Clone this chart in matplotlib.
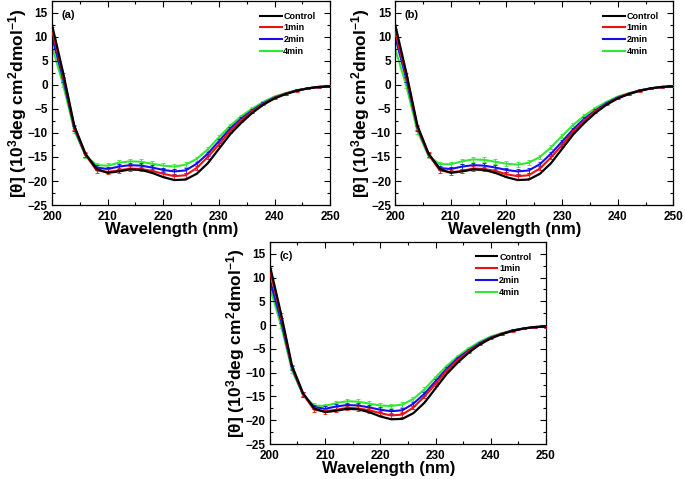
import matplotlib
matplotlib.use("Agg")
import matplotlib.pyplot as plt
from matplotlib.ticker import MultipleLocator
from matplotlib.lines import Line2D

plt.rcParams['font.family'] = ['Liberation Sans', 'DejaVu Sans']
plt.rcParams['font.weight'] = 'bold'
plt.rcParams['mathtext.fontset'] = 'custom'
plt.rcParams['mathtext.rm'] = 'Liberation Sans:bold'
plt.rcParams['mathtext.default'] = 'rm'

wavelength = list(range(200, 251, 2))
labels = ["Control", "1min", "2min", "4min"]
colors = ["black", "#ee1111", "#1111ee", "#33e833"]
panel_tags = ["(a)", "(b)", "(c)"]

# panel (a)
a_control = [12.5, 2.5, -8.5, -14.3, -17.5, -18.3, -18.0, -17.6, -17.7, -18.3, -19.2, -19.8, -19.7, -18.5,
             -16.3, -13.3, -10.3, -7.9, -5.8, -4.1, -2.8, -1.9, -1.2, -0.7, -0.4, -0.3]
a_1min = [11.5, 2.0, -8.8, -14.5, -17.8, -18.1, -17.8, -17.4, -17.5, -17.9, -18.5, -19.0, -18.8, -17.3,
          -15.0, -12.4, -9.6, -7.4, -5.5, -4.0, -2.7, -1.8, -1.2, -0.7, -0.4, -0.3]
a_2min = [10.0, 1.2, -9.0, -14.6, -17.2, -17.5, -17.0, -16.7, -16.8, -17.2, -17.7, -18.0, -17.8, -16.4,
          -14.3, -11.7, -9.1, -7.0, -5.3, -3.8, -2.6, -1.8, -1.1, -0.7, -0.4, -0.3]
a_4min = [8.0, 0.0, -9.5, -14.7, -16.7, -16.8, -16.2, -15.9, -16.0, -16.4, -16.8, -17.0, -16.6, -15.4,
          -13.4, -10.9, -8.5, -6.5, -4.9, -3.5, -2.4, -1.7, -1.1, -0.7, -0.4, -0.3]
a_err = [0.6, 0.5, 0.5, 0.5, 0.5, 0.5, 0.5, 0.5, 0.5, 0.5, 0.5, 0.5, 0.5, 0.4,
         0.4, 0.4, 0.3, 0.3, 0.3, 0.2, 0.2, 0.2, 0.2, 0.2, 0.2, 0.2]

# panel (b)
b_control = [12.5, 2.5, -8.5, -14.3, -17.5, -18.3, -18.0, -17.6, -17.7, -18.3, -19.2, -19.8, -19.7, -18.5,
             -16.3, -13.3, -10.3, -7.9, -5.8, -4.1, -2.8, -1.9, -1.2, -0.7, -0.4, -0.3]
b_1min = [11.0, 2.0, -8.8, -14.5, -17.8, -18.2, -17.9, -17.4, -17.5, -17.9, -18.6, -19.0, -18.8, -17.4,
          -15.1, -12.5, -9.7, -7.4, -5.5, -4.0, -2.7, -1.8, -1.2, -0.7, -0.4, -0.3]
b_2min = [10.0, 1.2, -9.0, -14.6, -17.3, -17.5, -17.0, -16.7, -16.8, -17.2, -17.7, -18.0, -17.8, -16.5,
          -14.3, -11.8, -9.2, -7.0, -5.3, -3.8, -2.6, -1.8, -1.1, -0.7, -0.4, -0.3]
b_4min = [7.5, -0.2, -9.7, -14.8, -16.5, -16.5, -15.9, -15.5, -15.6, -16.0, -16.4, -16.6, -16.2, -15.0,
          -13.0, -10.6, -8.3, -6.4, -4.8, -3.5, -2.4, -1.7, -1.1, -0.7, -0.4, -0.3]
b_err = [0.6, 0.5, 0.5, 0.5, 0.5, 0.5, 0.5, 0.5, 0.5, 0.5, 0.5, 0.5, 0.5, 0.4,
         0.4, 0.4, 0.3, 0.3, 0.3, 0.2, 0.2, 0.2, 0.2, 0.2, 0.2, 0.2]

# panel (c)
c_control = [12.5, 2.5, -8.5, -14.3, -17.5, -18.3, -18.0, -17.6, -17.7, -18.3, -19.2, -19.8, -19.7, -18.5,
             -16.3, -13.3, -10.3, -7.9, -5.8, -4.1, -2.8, -1.9, -1.2, -0.7, -0.4, -0.3]
c_1min = [11.5, 2.0, -8.8, -14.5, -17.8, -18.1, -17.8, -17.4, -17.5, -17.9, -18.5, -19.0, -18.8, -17.3,
          -15.0, -12.4, -9.6, -7.4, -5.5, -4.0, -2.7, -1.8, -1.2, -0.7, -0.4, -0.3]
c_2min = [9.5, 1.0, -9.0, -14.6, -17.2, -17.6, -17.1, -16.8, -16.9, -17.3, -17.8, -18.1, -17.9, -16.5,
          -14.4, -11.8, -9.2, -7.0, -5.3, -3.8, -2.6, -1.8, -1.1, -0.7, -0.4, -0.3]
c_4min = [8.0, 0.0, -9.5, -14.7, -16.9, -17.0, -16.4, -16.0, -16.1, -16.5, -16.9, -17.0, -16.7, -15.5,
          -13.5, -11.0, -8.6, -6.6, -4.9, -3.5, -2.4, -1.7, -1.1, -0.7, -0.4, -0.3]
c_err = [0.6, 0.5, 0.5, 0.5, 0.5, 0.5, 0.5, 0.5, 0.5, 0.5, 0.5, 0.5, 0.5, 0.4,
         0.4, 0.4, 0.3, 0.3, 0.3, 0.2, 0.2, 0.2, 0.2, 0.2, 0.2, 0.2]

panels = [
    ([a_control, a_1min, a_2min, a_4min], a_err),
    ([b_control, b_1min, b_2min, b_4min], b_err),
    ([c_control, c_1min, c_2min, c_4min], c_err),
]

fig = plt.figure(figsize=(6.85, 4.79), dpi=100)
rects = [
    [0.076, 0.572, 0.406, 0.426],
    [0.577, 0.572, 0.406, 0.426],
    [0.394, 0.073, 0.403, 0.422],
]

for rect, (series, err), tag in zip(rects, panels, panel_tags):
    ax = fig.add_axes(rect)
    for i, (vals, lab, col) in enumerate(zip(series, labels, colors)):
        if i == 0:
            ax.plot(wavelength, vals, color=col, lw=1.6, label=lab, zorder=5)
        else:
            ax.errorbar(wavelength, vals, yerr=err, color=col, lw=1.5, elinewidth=0.6,
                        capsize=1.5, capthick=0.6, label=lab, zorder=4 - i)
    ax.set_xlim(200, 250)
    ax.set_ylim(-25, 17.5)
    ax.xaxis.set_major_locator(MultipleLocator(10))
    ax.xaxis.set_minor_locator(MultipleLocator(5))
    ax.yaxis.set_minor_locator(MultipleLocator(2.5))
    ax.set_yticks(range(-25, 16, 5))
    ax.tick_params(which='both', direction='in', top=True, right=True, labelsize=8.5, width=0.8)
    ax.tick_params(which='major', length=4)
    ax.tick_params(axis='x', which='major', pad=4)
    ax.tick_params(axis='y', which='major', pad=3)
    ax.tick_params(which='minor', length=2.5)
    for lbl in ax.get_xticklabels() + ax.get_yticklabels():
        lbl.set_fontweight('bold')
    for sp in ax.spines.values():
        sp.set_linewidth(0.9)
    ax.set_xlabel("Wavelength (nm)", fontsize=12, fontweight='bold', labelpad=-0.5)
    ax.xaxis.label.set_x(0.43)
    ax.set_ylabel("[\u03b8] (10$^3$deg cm$^2$dmol$^{-1}$)", fontsize=12.5, fontweight='bold', labelpad=-1)
    ax.text(0.035, 0.955, tag, transform=ax.transAxes, fontsize=8, fontweight='bold', va='top')
    proxies = [Line2D([], [], color=c, lw=1.5) for c in colors]
    ax.legend(proxies, labels, loc='upper right', bbox_to_anchor=(0.96, 0.965), frameon=False,
              handlelength=2.4, handletextpad=0.2, labelspacing=0.3, borderaxespad=0,
              prop={'weight': 'bold', 'size': 6.5})

fig.savefig("out.png", dpi=100)
